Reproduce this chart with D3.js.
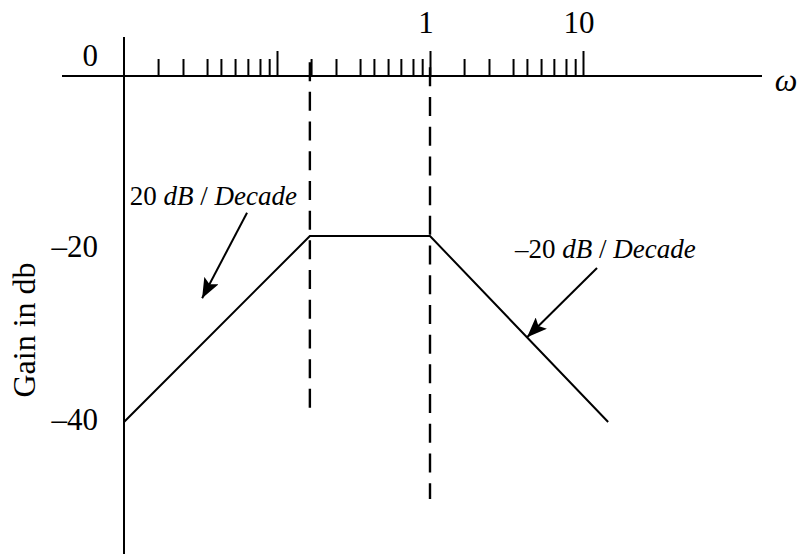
<!DOCTYPE html>
<html>
<head>
<meta charset="utf-8">
<script src="https://cdn.jsdelivr.net/npm/d3@7"></script>
<style>
  body { margin: 0; background: #fff; }
  svg text { font-family: "Liberation Serif", "Times New Roman", serif; fill: #000; }
</style>
</head>
<body>
<div id="chart"></div>
<script>
// Data
var curveOmega = [0.01, 0.164, 1, 14.6];
var curveGain = [-40, -18.5, -18.5, -40];

var breakOmega = [0.164, 1];        // dashed verticals
var breakTop = [1.6, 1.0];
var breakBottom = [-38.4, -48.9];   // where each dashed line stops

var decadeStarts = [0.01, 0.1, 1];
// minor ticks inside a decade, as drawn (hand spaced)
var minorSteps = [1.67, 2.43, 3.49, 4.30, 5.32, 6.45, 7.74, 8.89];
var majorTicks = [0.1, 1, 10];
var omegaLabels = [1, 10];
var gainLabels = [-20, -40];

var notes = [
    { parts: ["20 ", "dB", " / ", "Decade"], at: [0.0109, -14.9], from: [0.0637, -15.8], to: [0.0324, -25.7] },
    { parts: ["\u201320 ", "dB", " / ", "Decade"], at: [3.59, -21.0], from: [12.35, -22.2], to: [4.31, -30.2] }
];

// SVG
var svgWidth = 798, svgHeight = 554;

var svg = d3.select("#chart").append("svg")
    .attr("width", svgWidth)
    .attr("height", svgHeight);

var x = d3.scaleLog().domain([0.01, 10]).range([124, 583]);
var y = d3.scaleLinear().domain([0, -40]).range([76, 422]);

var axisX0 = 62, axisX1 = 762, axisYTop = 37;

// arrow head
svg.append("defs").append("marker")
    .attr("id", "head")
    .attr("markerUnits", "userSpaceOnUse")
    .attr("markerWidth", 22)
    .attr("markerHeight", 16)
    .attr("refX", 20)
    .attr("refY", 8)
    .attr("orient", "auto")
    .append("path")
    .attr("d", "M0,0 L20,8 L0,16 L4,8 Z")
    .attr("fill", "#000");

// axes
svg.append("line")
    .attr("x1", axisX0).attr("x2", axisX1)
    .attr("y1", y(0)).attr("y2", y(0))
    .attr("stroke", "black").attr("stroke-width", 2);

svg.append("line")
    .attr("x1", x(0.01)).attr("x2", x(0.01))
    .attr("y1", axisYTop).attr("y2", svgHeight)
    .attr("stroke", "black").attr("stroke-width", 2);

// ticks
var minorVals = [];
decadeStarts.forEach(function (d) {
    minorSteps.forEach(function (m) { minorVals.push(d * m); });
});

var minorAxis = svg.append("g")
    .attr("transform", "translate(0," + y(0) + ")")
    .call(d3.axisTop(x).tickValues(minorVals).tickSize(17).tickFormat(""));

var majorAxis = svg.append("g")
    .attr("transform", "translate(0," + y(0) + ")")
    .call(d3.axisTop(x).tickValues(majorTicks).tickSize(25).tickFormat(""));

[minorAxis, majorAxis].forEach(function (a) {
    a.select(".domain").remove();
    a.selectAll(".tick line").attr("stroke", "black").attr("stroke-width", 2);
});

// labels on the frequency axis
svg.selectAll("text.wlab")
    .data(omegaLabels)
    .enter()
    .append("text")
    .attr("class", "wlab")
    .attr("x", function (d) { return x(d) - 4; })
    .attr("y", y(0) - 43)
    .attr("text-anchor", "middle")
    .attr("font-size", 31)
    .text(function (d) { return d; });

svg.append("text")
    .attr("x", axisX1 + 24)
    .attr("y", y(0) + 15)
    .attr("text-anchor", "middle")
    .attr("font-size", 32)
    .attr("font-style", "italic")
    .text("\u03c9");

// gain labels
svg.append("text")
    .attr("x", 98)
    .attr("y", y(0) - 10)
    .attr("text-anchor", "end")
    .attr("font-size", 31)
    .text("0");

svg.selectAll("text.glab")
    .data(gainLabels)
    .enter()
    .append("text")
    .attr("class", "glab")
    .attr("x", 98)
    .attr("y", function (d) { return y(d) + 8; })
    .attr("text-anchor", "end")
    .attr("font-size", 31)
    .text(function (d) { return "\u2013" + Math.abs(d); });

svg.append("text")
    .attr("transform", "translate(35,330) rotate(-90)")
    .attr("text-anchor", "middle")
    .attr("font-size", 32)
    .text("Gain in db");

// dashed lines at the corner frequencies
svg.selectAll("line.brk")
    .data(breakOmega)
    .enter()
    .append("line")
    .attr("class", "brk")
    .attr("x1", function (d) { return x(d); })
    .attr("x2", function (d) { return x(d); })
    .attr("y1", function (d, i) { return y(breakTop[i]); })
    .attr("y2", function (d, i) { return y(breakBottom[i]); })
    .attr("stroke", "black")
    .attr("stroke-width", 2.4)
    .attr("stroke-dasharray", "19,10.7");

// asymptotic magnitude curve
var line = d3.line()
    .x(function (d) { return x(d[0]); })
    .y(function (d) { return y(d[1]); });

svg.append("path")
    .attr("d", line(d3.zip(curveOmega, curveGain)))
    .attr("fill", "none")
    .attr("stroke", "black")
    .attr("stroke-width", 2);

// slope notes
notes.forEach(function (n) {
    var t = svg.append("text")
        .attr("x", x(n.at[0]))
        .attr("y", y(n.at[1]))
        .attr("font-size", 27);
    n.parts.forEach(function (p, i) {
        t.append("tspan")
            .attr("font-style", i % 2 ? "italic" : "normal")
            .text(p);
    });

    svg.append("line")
        .attr("x1", x(n.from[0])).attr("y1", y(n.from[1]))
        .attr("x2", x(n.to[0])).attr("y2", y(n.to[1]))
        .attr("stroke", "black")
        .attr("stroke-width", 2)
        .attr("marker-end", "url(#head)");
});
</script>
</body>
</html>
